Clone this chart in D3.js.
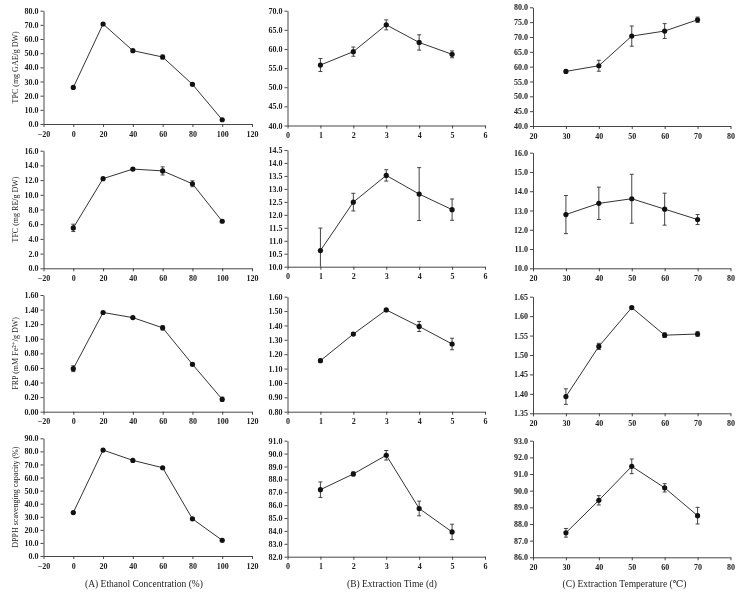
<!DOCTYPE html>
<html><head><meta charset="utf-8">
<script src="https://cdn.jsdelivr.net/npm/d3@7"></script>
<style>
html,body{margin:0;padding:0;background:#fff;}
svg{will-change:transform;}
svg text{-webkit-font-smoothing:antialiased;}
</style></head>
<body><svg id="c" width="740" height="592"></svg>
<script>
// ---- data ----
const ethanol = [0, 20, 40, 60, 80, 100];
const days = [1, 2, 3, 4, 5];
const temps = [30, 40, 50, 60, 70];

const tpcEthanol = [25.8, 70.6, 51.8, 47.3, 28.0, 3.0];
const tpcEthanolErr = [0.5, 0.6, 0.8, 1.4, 0.6, 0.5];
const tpcTime = [55.8, 59.3, 66.3, 61.7, 58.6];
const tpcTimeErr = [1.7, 1.2, 1.3, 2.0, 0.9];
const tpcTemp = [58.4, 60.3, 70.3, 72.0, 75.8];
const tpcTempErr = [0.4, 1.85, 3.4, 2.5, 0.9];

const tfcEthanol = [5.5, 12.2, 13.5, 13.25, 11.5, 6.4];
const tfcEthanolErr = [0.5, 0.15, 0.15, 0.55, 0.4, 0.15];
const tfcTime = [10.62, 12.49, 13.52, 12.8, 12.2];
const tfcTimeErr = [0.87, 0.34, 0.22, 1.02, 0.41];
const tfcTemp = [12.79, 13.37, 13.61, 13.07, 12.53];
const tfcTempErr = [0.99, 0.84, 1.27, 0.83, 0.26];

const frpEthanol = [0.59, 1.36, 1.29, 1.15, 0.65, 0.17];
const frpEthanolErr = [0.04, 0.01, 0.01, 0.03, 0.02, 0.03];
const frpTime = [1.155, 1.34, 1.508, 1.393, 1.271];
const frpTimeErr = [0.01, 0.008, 0.004, 0.035, 0.04];
const frpTemp = [1.393, 1.522, 1.622, 1.551, 1.554];
const frpTempErr = [0.02, 0.008, 0.003, 0.006, 0.006];

const dpphEthanol = [33.2, 81.0, 73.1, 67.5, 28.4, 12.0];
const dpphEthanolErr = [0.8, 0.6, 0.6, 0.6, 0.6, 0.6];
const dpphTime = [87.2, 88.42, 89.87, 85.74, 83.92];
const dpphTimeErr = [0.6, 0.15, 0.37, 0.57, 0.6];
const dpphTemp = [87.47, 89.42, 91.46, 90.17, 88.5];
const dpphTempErr = [0.26, 0.28, 0.44, 0.25, 0.5];

const yLabels = ["TPC (mg GAE/g DW)", "TFC (mg RE/g DW)", "FRP (mM Fe²⁺/g DW)", "DPPH scavenging capacity (%)"];
const xLabels = ["(A) Ethanol Concentration (%)", "(B) Extraction Time (d)", "(C) Extraction Temperature (℃)"];

// x-axis domains & ticks per column
const xDomains = [[-20, 120], [0, 6], [20, 80]];
const xTicks = [[-20, 0, 20, 40, 60, 80, 100, 120], [0, 1, 2, 3, 4, 5, 6], [20, 30, 40, 50, 60, 70, 80]];
const xValues = [ethanol, days, temps];

// y-axis domains, ticks and formats per panel (row-major)
const yDomains = [
  [[0, 80], [40, 70], [40, 80]],
  [[0, 16], [10, 14.5], [10, 16]],
  [[0, 1.6], [0.8, 1.6], [1.35, 1.65]],
  [[0, 90], [82, 91], [86, 93]]
];
const yStep = [[10, 5, 5], [2, 0.5, 1], [0.2, 0.1, 0.05], [10, 1, 1]];
const yFmt = [".1f", ".1f", ".2f", ".1f"];

const series = [
  [[tpcEthanol, tpcEthanolErr], [tpcTime, tpcTimeErr], [tpcTemp, tpcTempErr]],
  [[tfcEthanol, tfcEthanolErr], [tfcTime, tfcTimeErr], [tfcTemp, tfcTempErr]],
  [[frpEthanol, frpEthanolErr], [frpTime, frpTimeErr], [frpTemp, frpTempErr]],
  [[dpphEthanol, dpphEthanolErr], [dpphTime, dpphTimeErr], [dpphTemp, dpphTempErr]]
];

// ---- layout (pixel boxes) ----
const colX = [[43.5, 252], [287.5, 485], [533, 730.5]];
const rowY = [
  [[10.7, 124], [10.7, 125.5], [7.3, 126]],
  [[150.7, 268.3], [150, 266.7], [152.7, 268.3]],
  [[295, 411.7], [296.7, 411.7], [296.7, 413.3]],
  [[438.3, 556], [440.7, 556.7], [440.7, 557.3]]
];

const FONT = "'Liberation Serif', 'DejaVu Serif', serif";
const svg = d3.select("#c");
const tickFont = 8;

for (let r = 0; r < 4; r++) {
  for (let c = 0; c < 3; c++) {
    const x = d3.scaleLinear().domain(xDomains[c]).range(colX[c]);
    const [yt, yb] = rowY[r][c];
    const dom = yDomains[r][c];
    const y = d3.scaleLinear().domain(dom).range([yb, yt]);
    const step = yStep[r][c];
    const n = Math.round((dom[1] - dom[0]) / step);
    const yt_ = d3.range(n + 1).map(i => +(dom[0] + i * step).toFixed(4));
    const g = svg.append("g");

    const xa = g.append("g").attr("transform", `translate(0,${yb})`)
      .call(d3.axisBottom(x).tickValues(xTicks[c]).tickSize(3).tickSizeOuter(0).tickPadding(4).tickFormat(d3.format("d")));
    const ya = g.append("g").attr("transform", `translate(${colX[c][0]},0)`)
      .call(d3.axisLeft(y).tickValues(yt_).tickSize(3).tickSizeOuter(0).tickPadding(2).tickFormat(d3.format(yFmt[r])));
    [xa, ya].forEach(a => {
      a.attr("font-family", FONT).attr("font-size", tickFont);
      a.select(".domain").attr("stroke", "#333").attr("stroke-width", 0.9);
      a.selectAll(".tick line").attr("stroke", "#333").attr("stroke-width", 0.9);
      a.selectAll("text").attr("font-family", FONT).attr("font-size", tickFont)
        .attr("font-weight", "bold").attr("fill", "#222");
    });

    const xs = xValues[c];
    const [vals, errs] = series[r][c];
    const pts = xs.map((xv, i) => ({ x: xv, v: vals[i], e: errs[i] }));

    g.append("path").datum(pts)
      .attr("fill", "none").attr("stroke", "#333").attr("stroke-width", 1)
      .attr("d", d3.line().x(d => x(d.x)).y(d => y(d.v)));

    const eb = g.selectAll(".eb").data(pts).enter().append("g");
    const lo = d => y(Math.max(dom[0], d.v - d.e));
    const hi = d => y(d.v + d.e);
    eb.append("line").attr("x1", d => x(d.x)).attr("x2", d => x(d.x))
      .attr("y1", lo).attr("y2", hi).attr("stroke", "#444").attr("stroke-width", 1);
    eb.append("line").attr("x1", d => x(d.x) - 2).attr("x2", d => x(d.x) + 2)
      .attr("y1", hi).attr("y2", hi).attr("stroke", "#444").attr("stroke-width", 1);
    eb.filter(d => d.v - d.e > dom[0]).append("line").attr("x1", d => x(d.x) - 2).attr("x2", d => x(d.x) + 2)
      .attr("y1", lo).attr("y2", lo).attr("stroke", "#444").attr("stroke-width", 1);

    g.selectAll(".pt").data(pts).enter().append("circle")
      .attr("cx", d => x(d.x)).attr("cy", d => y(d.v)).attr("r", 2.6).attr("fill", "#111");

    if (c === 0) {
      const cy = (yt + yb) / 2;
      svg.append("text").attr("transform", `translate(15,${cy}) rotate(-90)`)
        .attr("text-anchor", "middle").attr("dy", "0.35em")
        .attr("font-family", FONT).attr("font-size", 8).attr("fill", "#222")
        .text(yLabels[r]);
    }
  }
}

const xLabCenters = [144, 392, 624.5];
xLabels.forEach((t, i) => {
  svg.append("text").attr("x", xLabCenters[i]).attr("y", 587)
    .attr("text-anchor", "middle").attr("font-family", FONT)
    .attr("font-size", 9.5).attr("fill", "#222").text(t);
});
</script></body></html>
